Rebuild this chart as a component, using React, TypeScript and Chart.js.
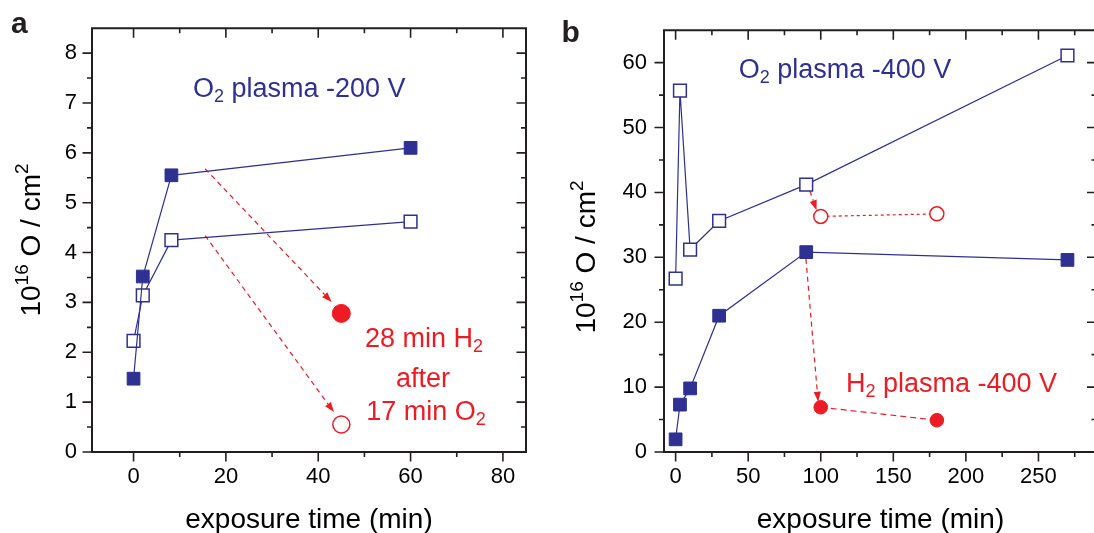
import React, { useEffect, useRef } from "react";
import { Chart, registerables } from "chart.js";

Chart.register(...registerables);

const BLUE = "#2e3192";
const RED = "#ed1c24";
const FONT = '"Liberation Sans", Arial, Helvetica, sans-serif';

// ---------- Panel a ----------
const A_TIME = [0, 2, 8.2, 60];
const A_O2_FILLED = [1.47, 3.52, 5.55, 6.1];
const A_O2_OPEN = [2.23, 3.14, 4.25, 4.62];
const A_H2_TIME = [45];
const A_H2_FILLED = [2.78];
const A_H2_OPEN = [0.55];
const A_X_MAJOR = [0, 20, 40, 60, 80];
const A_X_MINOR = [10, 30, 50, 70];
const A_Y_MAJOR = [0, 1, 2, 3, 4, 5, 6, 7, 8];
const A_Y_MINOR = [0.5, 1.5, 2.5, 3.5, 4.5, 5.5, 6.5, 7.5];
// arrows (value space): from -> to
const A_ARROWS = [
  [15.5, 5.68, 42.9, 3.01],
  [15.5, 4.34, 43.4, 0.8],
];

// ---------- Panel b ----------
const B_TIME = [0, 3, 10, 30, 90, 270];
const B_O2_OPEN = [26.7, 55.7, 31.2, 35.6, 41.2, 61.1];
const B_O2_FILLED = [1.95, 7.3, 9.8, 21.0, 30.8, 29.6];
const B_H2_TIME = [100, 180];
const B_H2_OPEN = [36.3, 36.7];
const B_H2_FILLED = [6.9, 4.9];
const B_X_MAJOR = [0, 50, 100, 150, 200, 250];
const B_X_MINOR = [25, 75, 125, 175, 225, 275];
const B_Y_MAJOR = [0, 10, 20, 30, 40, 50, 60];
const B_Y_MINOR = [5, 15, 25, 35, 45, 55];
const B_ARROWS = [
  [92.5, 40.26, 97.1, 37.26],
  [89.8, 29.76, 98.2, 7.75],
];

type Seg = { t: string; sub?: boolean; sup?: boolean };

function fnt(size: number, bold = false) {
  return `${bold ? "bold " : ""}${size}px ${FONT}`;
}

function drawRich(
  ctx: CanvasRenderingContext2D,
  segs: Seg[],
  x: number,
  y: number,
  size: number,
  align: "left" | "center",
  color: string
) {
  const small = Math.round(size * 0.68);
  let w = 0;
  for (const s of segs) {
    ctx.font = fnt(s.sub || s.sup ? small : size);
    w += ctx.measureText(s.t).width;
  }
  let cx = align === "center" ? x - w / 2 : x;
  ctx.fillStyle = color;
  ctx.textAlign = "left";
  ctx.textBaseline = "alphabetic";
  for (const s of segs) {
    ctx.font = fnt(s.sub || s.sup ? small : size);
    const dy = s.sub ? size * 0.19 : s.sup ? -size * 0.43 : 0;
    ctx.fillText(s.t, cx, y + dy);
    cx += ctx.measureText(s.t).width;
  }
}

type Label = { segs: Seg[]; x: number; y: number; align: "left" | "center"; color: string };

type PanelCfg = {
  letter: string;
  letterX: number;
  letterY: number;
  xMin: number;
  xMax: number;
  yMin: number;
  yMax: number;
  xMajor: number[];
  xMinor: number[];
  yMajor: number[];
  yMinor: number[];
  arrows: number[][];
  labels: Label[];
  xTitleX: number;
  yTitleX: number;
  yTitleY: number;
  padTop: number;
  padRight: number;
  yAxisW: number;
  xAxisH: number;
  yPad: number;
  datasets: any[];
};

function framePlugin(cfg: PanelCfg) {
  return {
    id: "frame" + cfg.letter,
    beforeDatasetsDraw(chart: any) {
      const { ctx, scales } = chart;
      const xs = scales.x;
      const ys = scales.y;
      ctx.save();
      ctx.strokeStyle = RED;
      ctx.fillStyle = RED;
      ctx.lineWidth = 1.2;
      for (const [x0, y0, x1, y1] of cfg.arrows) {
        const px0 = xs.getPixelForValue(x0);
        const py0 = ys.getPixelForValue(y0);
        const px1 = xs.getPixelForValue(x1);
        const py1 = ys.getPixelForValue(y1);
        const ang = Math.atan2(py1 - py0, px1 - px0);
        const head = 10;
        const hw = 3.6;
        const bx = px1 - head * Math.cos(ang);
        const by = py1 - head * Math.sin(ang);
        ctx.setLineDash([5, 4]);
        ctx.beginPath();
        ctx.moveTo(px0, py0);
        ctx.lineTo(bx, by);
        ctx.stroke();
        ctx.setLineDash([]);
        ctx.beginPath();
        ctx.moveTo(px1, py1);
        ctx.lineTo(bx - hw * Math.sin(ang), by + hw * Math.cos(ang));
        ctx.lineTo(bx + hw * Math.sin(ang), by - hw * Math.cos(ang));
        ctx.closePath();
        ctx.fill();
      }
      ctx.restore();
    },
    afterDraw(chart: any) {
      const { ctx, chartArea, scales } = chart;
      const xs = scales.x;
      const ys = scales.y;
      const { left, right, top, bottom } = chartArea;
      ctx.save();
      ctx.setLineDash([]);
      // frame
      ctx.strokeStyle = "#231f20";
      ctx.lineWidth = 2;
      ctx.beginPath();
      ctx.rect(left, top, right - left, bottom - top);
      ctx.stroke();
      // ticks
      ctx.lineWidth = 1.6;
      const MAJ = 9.5;
      const MIN = 5;
      ctx.beginPath();
      const xt = (vals: number[], len: number) => {
        for (const v of vals) {
          const p = xs.getPixelForValue(v);
          ctx.moveTo(p, bottom);
          ctx.lineTo(p, bottom + len);
          ctx.moveTo(p, top);
          ctx.lineTo(p, top + len);
        }
      };
      const yt = (vals: number[], len: number) => {
        for (const v of vals) {
          const p = ys.getPixelForValue(v);
          ctx.moveTo(left, p);
          ctx.lineTo(left - len, p);
          ctx.moveTo(right, p);
          ctx.lineTo(right - len, p);
        }
      };
      xt(cfg.xMajor, MAJ);
      xt(cfg.xMinor, MIN);
      yt(cfg.yMajor, MAJ);
      yt(cfg.yMinor, MIN);
      ctx.stroke();

      // panel letter
      ctx.fillStyle = "#231f20";
      ctx.font = fnt(30, true);
      ctx.textAlign = "left";
      ctx.textBaseline = "alphabetic";
      ctx.fillText(cfg.letter, cfg.letterX, cfg.letterY);

      // in-plot labels
      for (const l of cfg.labels) drawRich(ctx, l.segs, l.x, l.y, 27, l.align, l.color);

      // x title
      drawRich(ctx, [{ t: "exposure time (min)" }], cfg.xTitleX, 528, 28, "center", "#000");

      // y title
      ctx.translate(cfg.yTitleX, cfg.yTitleY);
      ctx.rotate(-Math.PI / 2);
      drawRich(
        ctx,
        [{ t: "10" }, { t: "16", sup: true }, { t: " O / cm" }, { t: "2", sup: true }],
        0,
        0,
        28,
        "center",
        "#000"
      );
      ctx.restore();
    },
  };
}

function pts(xs: number[], ys: number[]) {
  return xs.map((x, i) => ({ x, y: ys[i] }));
}

const filledSquare = (data: any[]) => ({
  data,
  showLine: true,
  borderColor: BLUE,
  borderWidth: 1.2,
  pointStyle: "rect",
  pointRadius: 9,
  pointBackgroundColor: BLUE,
  pointBorderColor: BLUE,
  pointBorderWidth: 1,
});
const openSquare = (data: any[]) => ({
  data,
  showLine: true,
  borderColor: BLUE,
  borderWidth: 1.2,
  pointStyle: "rect",
  pointRadius: 9,
  pointBackgroundColor: "#ffffff",
  pointBorderColor: BLUE,
  pointBorderWidth: 1.5,
});

const PANEL_A: PanelCfg = {
  letter: "a",
  letterX: 11,
  letterY: 33,
  xMin: -9,
  xMax: 85,
  yMin: 0,
  yMax: 8.5,
  xMajor: A_X_MAJOR,
  xMinor: A_X_MINOR,
  yMajor: A_Y_MAJOR,
  yMinor: A_Y_MINOR,
  arrows: A_ARROWS,
  labels: [
    { segs: [{ t: "O" }, { t: "2", sub: true }, { t: " plasma -200 V" }], x: 193, y: 97, align: "left", color: BLUE },
    { segs: [{ t: "28 min H" }, { t: "2", sub: true }], x: 424, y: 347, align: "center", color: RED },
    { segs: [{ t: "after" }], x: 423, y: 386.5, align: "center", color: RED },
    { segs: [{ t: "17 min O" }, { t: "2", sub: true }], x: 426, y: 420, align: "center", color: RED },
  ],
  xTitleX: 309,
  yTitleX: 39.7,
  yTitleY: 240,
  padTop: 18,
  padRight: 21,
  yAxisW: 92,
  xAxisH: 81,
  yPad: 15,
  datasets: [
    filledSquare(pts(A_TIME, A_O2_FILLED)),
    openSquare(pts(A_TIME, A_O2_OPEN)),
    {
      data: pts(A_H2_TIME, A_H2_FILLED),
      showLine: false,
      pointStyle: "circle",
      pointRadius: 9,
      pointBackgroundColor: RED,
      pointBorderColor: RED,
      pointBorderWidth: 1,
    },
    {
      data: pts(A_H2_TIME, A_H2_OPEN),
      showLine: false,
      pointStyle: "circle",
      pointRadius: 8.5,
      pointBackgroundColor: "#ffffff",
      pointBorderColor: RED,
      pointBorderWidth: 1.5,
    },
  ],
};

const PANEL_B: PanelCfg = {
  letter: "b",
  letterX: 14.5,
  letterY: 42,
  xMin: -8,
  xMax: 290,
  yMin: 0,
  yMax: 65,
  xMajor: B_X_MAJOR,
  xMinor: B_X_MINOR,
  yMajor: B_Y_MAJOR,
  yMinor: B_Y_MINOR,
  arrows: B_ARROWS,
  labels: [
    { segs: [{ t: "O" }, { t: "2", sub: true }, { t: " plasma -400 V" }], x: 191.7, y: 77.5, align: "left", color: BLUE },
    { segs: [{ t: "H" }, { t: "2", sub: true }, { t: " plasma -400 V" }], x: 299, y: 392, align: "left", color: RED },
  ],
  xTitleX: 333.5,
  yTitleX: 48,
  yTitleY: 257,
  padTop: 18,
  padRight: 9.5,
  yAxisW: 117,
  xAxisH: 81,
  yPad: 17,
  datasets: [
    openSquare(pts(B_TIME, B_O2_OPEN)),
    filledSquare(pts(B_TIME, B_O2_FILLED)),
    {
      data: pts(B_H2_TIME, B_H2_OPEN),
      showLine: true,
      borderColor: RED,
      borderWidth: 1.2,
      borderDash: [3, 3],
      pointStyle: "circle",
      pointRadius: 7,
      pointBackgroundColor: "#ffffff",
      pointBorderColor: RED,
      pointBorderWidth: 1.5,
    },
    {
      data: pts(B_H2_TIME, B_H2_FILLED),
      showLine: true,
      borderColor: RED,
      borderWidth: 1.2,
      borderDash: [6, 4],
      pointStyle: "circle",
      pointRadius: 6.8,
      pointBackgroundColor: RED,
      pointBorderColor: RED,
      pointBorderWidth: 1,
    },
  ],
};

function Panel({ cfg, left, width }: { cfg: PanelCfg; left: number; width: number }) {
  const ref = useRef<HTMLCanvasElement>(null);
  useEffect(() => {
    const canvas = ref.current!;
    const tickFont = { family: FONT, size: 22 };
    const chart = new Chart(canvas, {
      type: "scatter",
      data: { datasets: cfg.datasets },
      options: {
        responsive: false,
        animation: false,
        events: [],
        layout: { padding: { left: 0, top: cfg.padTop, right: cfg.padRight, bottom: 0 } },
        plugins: { legend: { display: false }, tooltip: { enabled: false } },
        scales: {
          x: {
            type: "linear",
            position: "bottom",
            min: cfg.xMin,
            max: cfg.xMax,
            grid: { display: false, drawTicks: false },
            border: { display: false },
            ticks: { font: tickFont, color: "#000", padding: 12, maxRotation: 0, autoSkip: false },
            afterBuildTicks: (s: any) => {
              s.ticks = cfg.xMajor.map((v) => ({ value: v }));
            },
            afterFit: (s: any) => {
              s.height = cfg.xAxisH;
            },
          },
          y: {
            type: "linear",
            position: "left",
            min: cfg.yMin,
            max: cfg.yMax,
            grid: { display: false, drawTicks: false },
            border: { display: false },
            ticks: { font: tickFont, color: "#000", padding: cfg.yPad, autoSkip: false },
            afterBuildTicks: (s: any) => {
              s.ticks = cfg.yMajor.map((v) => ({ value: v }));
            },
            afterFit: (s: any) => {
              s.width = cfg.yAxisW;
            },
          },
        },
      } as any,
      plugins: [framePlugin(cfg)],
    });
    return () => chart.destroy();
  }, [cfg]);
  return (
    <canvas
      ref={ref}
      width={width}
      height={533}
      style={{ position: "absolute", left, top: 0, width, height: 533, display: "block" }}
    />
  );
}

export default function App() {
  return (
    <div
      style={{
        position: "absolute",
        left: 0,
        top: 0,
        width: 1094,
        height: 533,
        overflow: "hidden",
        background: "#ffffff",
      }}
    >
      <Panel cfg={PANEL_A} left={0} width={547} />
      <Panel cfg={PANEL_B} left={547} width={560} />
    </div>
  );
}
